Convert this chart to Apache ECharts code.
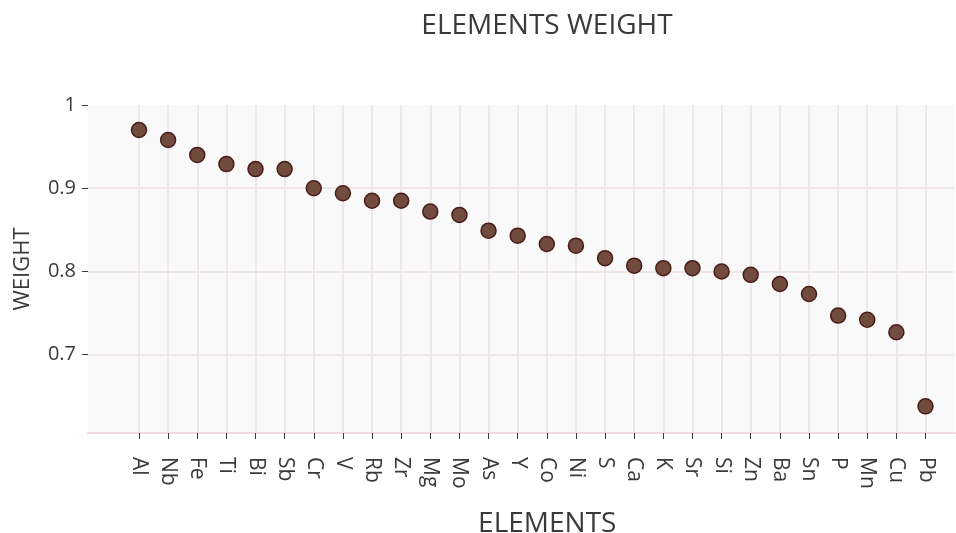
<!DOCTYPE html>
<html>
<head>
<meta charset="utf-8">
<script src="https://cdn.jsdelivr.net/npm/echarts@6/dist/echarts.min.js"></script>
<style>
html,body{margin:0;padding:0;background:#fff;}
#chart{width:956px;height:533px;}
</style>
</head>
<body>
<div id="chart"></div>
<script>
const categories = ['Al','Nb','Fe','Ti','Bi','Sb','Cr','V','Rb','Zr','Mg','Mo','As','Y','Co','Ni','S','Ca','K','Sr','Si','Zn','Ba','Sn','P','Mn','Cu','Pb'];
const weights = [0.970,0.958,0.940,0.929,0.923,0.923,0.900,0.894,0.885,0.885,0.872,0.868,0.849,0.843,0.833,0.831,0.816,0.807,0.804,0.804,0.800,0.796,0.785,0.773,0.747,0.742,0.727,0.638];
const yMin = 0.606, yMax = 1.0;

const FONT = '"Open Sans", sans-serif';
const TXT = '#3a3a3a';
const GRID = '#eee6e8';

const chart = echarts.init(document.getElementById('chart'), null, {renderer: 'canvas'});
chart.setOption({
  animation: false,
  backgroundColor: '#ffffff',
  textStyle: {fontFamily: FONT},
  title: {
    text: 'ELEMENTS WEIGHT',
    left: 542, top: 7,
    textAlign: 'center',
    textStyle: {fontFamily: FONT, fontSize: 28, fontWeight: 'normal', color: TXT}
  },
  grid: [
    {left: 88, right: 1, top: 105, bottom: 100, show: true, backgroundColor: '#f9f9f9', borderWidth: 0, outerBoundsMode: 'none', containLabel: false},
    {left: 139, right: 30.5, top: 105, bottom: 100, outerBoundsMode: 'none', containLabel: false}
  ],
  xAxis: [
    {gridIndex: 0, type: 'value', min: 0, max: 1,
     axisLine: {show: true, lineStyle: {color: '#f0dadd', width: 2}},
     axisTick: {show: false}, axisLabel: {show: false}, splitLine: {show: false}},
    {gridIndex: 1, type: 'category', data: categories, boundaryGap: false,
     name: 'ELEMENTS', nameLocation: 'middle', nameGap: 77,
     nameTextStyle: {fontFamily: FONT, fontSize: 28, color: TXT, padding: [0, 0, 0, 30]},
     axisLine: {show: false},
     axisTick: {show: true, length: 6, lineStyle: {color: TXT, width: 1}},
     axisLabel: {rotate: -90, fontSize: 21, color: TXT, margin: 24, fontFamily: FONT},
     splitLine: {show: true, lineStyle: {color: GRID, width: 2}}}
  ],
  yAxis: [
    {gridIndex: 0, type: 'value', min: yMin, max: yMax,
     name: 'WEIGHT', nameLocation: 'middle', nameGap: 54,
     nameTextStyle: {fontFamily: FONT, fontSize: 22, color: TXT},
     axisLine: {show: false},
     axisTick: {show: true, length: 6, lineStyle: {color: TXT, width: 1}},
     axisLabel: {fontSize: 20, color: TXT, margin: 12, fontFamily: FONT, showMinLabel: false,
       formatter: v => (Math.abs(v*10 - Math.round(v*10)) < 1e-6 ? (Math.round(v*10) === 10 ? '1' : (Math.round(v*10)/10).toString()) : '')},
     splitLine: {show: true, showMaxLine: false, lineStyle: {color: GRID, width: 2}}},
    {gridIndex: 1, type: 'value', min: yMin, max: yMax, show: false}
  ],
  series: [{
    type: 'scatter',
    xAxisIndex: 1, yAxisIndex: 1,
    data: weights,
    symbol: 'circle',
    symbolSize: 15,
    itemStyle: {color: '#704b3e', borderColor: '#4a1c17', borderWidth: 1.5, opacity: 1}
  }]
});
</script>
</body>
</html>
